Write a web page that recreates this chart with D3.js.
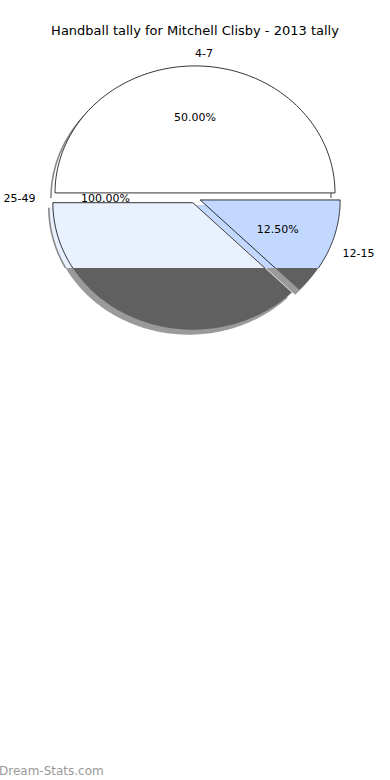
<!DOCTYPE html>
<html>
<head>
<meta charset="utf-8">
<script src="https://cdn.jsdelivr.net/npm/d3@7"></script>
<style>
  body { margin: 0; background: #fff; }
  text { font-family: "DejaVu Sans", sans-serif; }
</style>
</head>
<body>
<div id="vis"></div>
<script>
// pie data
let categories = ['4-7', '25-49', '12-15']
let wedgeShare = [0.5, 0.375, 0.125]      // share of the circle each wedge covers
let shownPct = [50, 100, 12.5]            // percentages as printed on the chart
let labelAngle = [90, 180, -22.5]         // where the printed labels sit (degrees)
let colors = ['#ffffff', '#e9f0fe', '#c3d8fe']

let width = 390, height = 780
let cx = 195, cy = 198, rx = 140, ry = 127
let explode = 0.04
let coverY = 268   // below this line the wedges show up as dark grey

let svg = d3.select('#vis')
  .append('svg')
  .attr('width', width)
  .attr('height', height)

// unit circle -> screen (squashed into an ellipse)
let x = d3.scaleLinear().domain([-1, 1]).range([cx - rx, cx + rx])
let y = d3.scaleLinear().domain([-1, 1]).range([cy + ry, cy - ry])

// wedge angles, counter-clockwise from 3 o'clock, starting at 0
let starts = [], acc = 0
wedgeShare.forEach(s => { starts.push(acc); acc += s })
let wedges = categories.map((c, i) => {
  let t1 = starts[i] * 360, t2 = (starts[i] + wedgeShare[i]) * 360
  return { cat: c, t1: t1, t2: t2, mid: (t1 + t2) / 2, i: i }
})

let rad = d => d * Math.PI / 180

function wedgePoints(w) {
  let mx = explode * Math.cos(rad(w.mid)), my = explode * Math.sin(rad(w.mid))
  return d3.range(0, 121).map(k => {
    let t = rad(w.t1 + (w.t2 - w.t1) * k / 120)
    return [mx + Math.cos(t), my + Math.sin(t)]
  })
}
function centerPoint(w) {
  return [explode * Math.cos(rad(w.mid)), explode * Math.sin(rad(w.mid))]
}

function wedgePath(w, dx, dy) {
  let line = d3.line().x(p => x(p[0]) + dx).y(p => y(p[1]) + dy)
  return line([centerPoint(w)].concat(wedgePoints(w))) + 'Z'
}
function arcPath(w, dx, dy) {
  let line = d3.line().x(p => x(p[0]) + dx).y(p => y(p[1]) + dy)
  return line(wedgePoints(w))
}

let defs = svg.append('defs')
defs.append('clipPath').attr('id', 'top')
  .append('rect').attr('x', 0).attr('y', 0).attr('width', width).attr('height', coverY)
defs.append('clipPath').attr('id', 'bottom')
  .append('rect').attr('x', 0).attr('y', coverY).attr('width', width).attr('height', height - coverY)

let sdx = -4, sdy = 5

// shadows: above the cover line they only show as a grey rim
let shTop = svg.append('g').attr('clip-path', 'url(#top)')
shTop.selectAll('path.fill')
  .data(wedges)
  .join('path')
  .attr('class', 'fill')
  .attr('d', d => wedgePath(d, sdx, sdy))
  .attr('fill', d => colors[d.i])
shTop.selectAll('path.rim')
  .data(wedges)
  .join('path')
  .attr('class', 'rim')
  .attr('d', d => arcPath(d, sdx, sdy))
  .attr('fill', 'none')
  .attr('stroke', '#8a8a8a')
  .attr('stroke-width', 1.6)

svg.append('g').attr('clip-path', 'url(#bottom)').selectAll('path')
  .data(wedges)
  .join('path')
  .attr('d', d => wedgePath(d, sdx, sdy))
  .attr('fill', '#9a9a9a')

// wedges, upper part
svg.append('g').attr('clip-path', 'url(#top)').selectAll('path')
  .data(wedges)
  .join('path')
  .attr('d', d => wedgePath(d, 0, 0))
  .attr('fill', d => colors[d.i])
  .attr('stroke', '#000')
  .attr('stroke-width', 0.8)

// wedges, lower part
svg.append('g').attr('clip-path', 'url(#bottom)').selectAll('path')
  .data(wedges)
  .join('path')
  .attr('d', d => wedgePath(d, 0, 0))
  .attr('fill', '#606060')

// category labels and percentages
let fmt = d3.format('.2f')
wedges.forEach(w => {
  let a = rad(labelAngle[w.i])
  let mx = explode * Math.cos(a), my = explode * Math.sin(a)
  let lx = mx + 1.1 * Math.cos(a), ly = my + 1.1 * Math.sin(a)
  svg.append('text')
    .attr('x', x(lx))
    .attr('y', y(ly))
    .attr('dy', '0.35em')
    .attr('text-anchor', Math.cos(a) > -1e-9 ? 'start' : 'end')
    .style('font-size', '11px')
    .text(w.cat)
  let px = mx + 0.6 * Math.cos(a), py = my + 0.6 * Math.sin(a)
  svg.append('text')
    .attr('x', x(px))
    .attr('y', y(py))
    .attr('dy', '0.35em')
    .attr('text-anchor', 'middle')
    .style('font-size', '11px')
    .text(fmt(shownPct[w.i]) + '%')
})

svg.append('text')
  .attr('x', width / 2)
  .attr('y', 30)
  .attr('dy', '0.35em')
  .attr('text-anchor', 'middle')
  .style('font-size', '13px')
  .text('Handball tally for Mitchell Clisby - 2013 tally')

svg.append('text')
  .attr('x', -1)
  .attr('y', 771)
  .attr('dy', '0.35em')
  .style('font-size', '12px')
  .attr('fill', '#999')
  .text('Dream-Stats.com')
</script>
</body>
</html>
